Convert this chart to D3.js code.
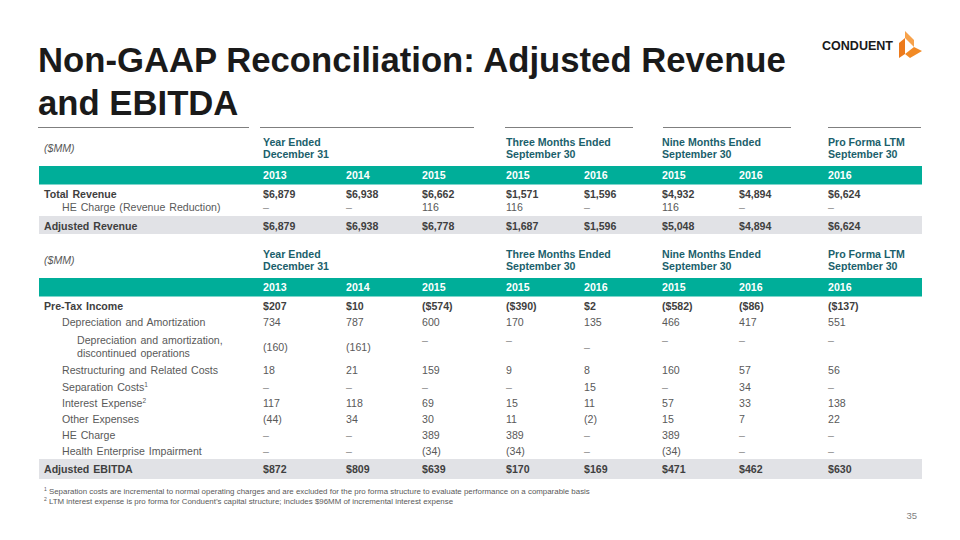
<!DOCTYPE html>
<html><head><meta charset="utf-8">
<script src="https://cdn.jsdelivr.net/npm/d3@7"></script>
<style>
html,body{margin:0;padding:0;background:#fff;}
svg{display:block;font-family:"Liberation Sans",Arial,sans-serif;}
</style></head>
<body><svg id="c" width="960" height="540"></svg>
<script>
// ---------- DATA ----------
const titleLines = ["Non-GAAP Reconciliation: Adjusted Revenue", "and EBITDA"];
const unitLabel = "($MM)";
const groups = [
  {label: ["Year Ended", "December 31"], cols: ["c0","c1","c2"]},
  {label: ["Three Months Ended", "September 30"], cols: ["c3","c4"]},
  {label: ["Nine Months Ended", "September 30"], cols: ["c5","c6"]},
  {label: ["Pro Forma LTM", "September 30"], cols: ["c7"]}
];
const columns = ["c0","c1","c2","c3","c4","c5","c6","c7"];
const years = ["2013","2014","2015","2015","2016","2015","2016","2016"];

const revenueLabels = ["Total Revenue", "HE Charge (Revenue Reduction)", "Adjusted Revenue"];
const totalRevenue = ["$6,879","$6,938","$6,662","$1,571","$1,596","$4,932","$4,894","$6,624"];
const heChargeRevenue = ["–","–","116","116","–","116","–","–"];
const adjustedRevenue = ["$6,879","$6,938","$6,778","$1,687","$1,596","$5,048","$4,894","$6,624"];

const ebitdaLabels = ["Pre-Tax Income","Depreciation and Amortization",
  "Depreciation and amortization,|discontinued operations","Restructuring and Related Costs",
  "Separation Costs","Interest Expense","Other Expenses","HE Charge",
  "Health Enterprise Impairment","Adjusted EBITDA"];
const ebitdaSup = ["","","","","1","2","","","",""];
const preTaxIncome = ["$207","$10","($574)","($390)","$2","($582)","($86)","($137)"];
const depAmort = ["734","787","600","170","135","466","417","551"];
const depAmortDisc = ["(160)","(161)","–","–","–","–","–","–"];
const restructuring = ["18","21","159","9","8","160","57","56"];
const separationCosts = ["–","–","–","–","15","–","34","–"];
const interestExpense = ["117","118","69","15","11","57","33","138"];
const otherExpenses = ["(44)","34","30","11","(2)","15","7","22"];
const heCharge = ["–","–","389","389","–","389","–","–"];
const heImpairment = ["–","–","(34)","(34)","–","(34)","–","–"];
const adjustedEbitda = ["$872","$809","$639","$170","$169","$471","$462","$630"];

const footnotes = [
  ["1"," Separation costs are incremental to normal operating charges and are excluded for the pro forma structure to evaluate performance on a comparable basis"],
  ["2"," LTM interest expense is pro forma for Conduent’s capital structure; includes $96MM of incremental interest expense"]
];
const pageNumber = "35";
const logoText = "CONDUENT";

// ---------- LAYOUT ----------
const svg = d3.select("#c");
const TEAL = "#00ae99", HEAD = "#1b5f6c", TXT = "#595959", DARK = "#3f3f3f", BAND = "#e1e2e6";
const fs = 10.6;
const x = d3.scaleOrdinal().domain(columns).range([263,346,422,506,584,662,739,828]);
const tableLeft = 38, tableRight = 922;
const indent = d3.scaleOrdinal().domain([0,1,2]).range([44,62,77]);

// title
svg.append("g").selectAll("text").data(titleLines).join("text")
  .attr("x", 38).attr("y", (d,i)=>72+i*43)
  .attr("font-size", 34.7).attr("font-weight", "bold").attr("fill", "#1a1a1a")
  .text(d=>d);

// logo
svg.append("text").attr("x", 822).attr("y", 50).attr("font-size", 12).attr("font-weight","bold")
  .attr("fill","#1a1a1a").attr("textLength",71).attr("lengthAdjust","spacingAndGlyphs").text(logoText);
const logo = svg.append("g");
logo.append("path").attr("d","M905,31 L914,40 L914,47 L905,38 Z").attr("fill","#f7a24b");
logo.append("path").attr("d","M899,43 L905,38 L905,54 L899,58 Z").attr("fill","#ec7a1c");
logo.append("path").attr("d","M905,54 L914,47 L922,51 L910,58 Z").attr("fill","#f28a25");

// top rules
const ruleSegs = [[38,249],[260,474],[505,633],[663,791],[828,921]];
svg.append("g").selectAll("line").data(ruleSegs).join("line")
  .attr("x1",d=>d[0]).attr("x2",d=>d[1]).attr("y1",127.5).attr("y2",127.5)
  .attr("stroke","#7f7f7f").attr("stroke-width",1.2);

function header(yTop){
  svg.append("text").attr("x",44).attr("y",yTop+18.5).attr("font-size",fs).attr("font-style","italic")
    .attr("fill",TXT).text(unitLabel);
  const g = svg.append("g").selectAll("text").data(groups).join("text")
    .attr("font-size",fs).attr("font-weight","bold").attr("fill",HEAD);
  g.selectAll("tspan").data(d=>d.label.map(l=>({l, c:d.cols[0]}))).join("tspan")
    .attr("x",d=>x(d.c)).attr("y",(d,i)=>yTop+12.5+i*12).text(d=>d.l);
  svg.append("rect").attr("x",tableLeft+1).attr("width",tableRight-tableLeft-1)
    .attr("y",yTop+33).attr("height",18.5).attr("fill",TEAL);
  svg.append("g").selectAll("text").data(columns).join("text")
    .attr("x",d=>x(d)).attr("y",yTop+46).attr("font-size",fs).attr("font-weight","bold")
    .attr("fill","#fff").text((d,i)=>years[i]);
}

function row(label, values, y, opts){
  opts = opts || {};
  if (opts.band) svg.append("rect").attr("x",tableLeft+1).attr("width",tableRight-tableLeft-1)
    .attr("y",y-10).attr("height",opts.bandH||19).attr("fill",BAND);
  const fw = opts.bold ? "bold" : "normal";
  const col = opts.bold ? DARK : TXT;
  const lines = label.split("|");
  const t = svg.append("text").attr("font-size",fs).attr("font-weight",fw).attr("fill",col)
    .attr("word-spacing", 1);
  lines.forEach((l,i)=>{
    t.append("tspan").attr("x",indent(opts.level||0)).attr("y",y+4+(opts.labelDy||0)+i*12.5).text(l);
  });
  if (opts.sup) t.append("tspan").attr("font-size",6.5).attr("dy",-4).text(opts.sup);
  svg.append("g").selectAll("text").data(columns).join("text")
    .attr("x",d=>x(d))
    .attr("y",(d,i)=> y+4 + (values[i]==="–" ? (opts.dashDy ? opts.dashDy(i) : 0) : (opts.valueDy||0)))
    .attr("font-size",fs).attr("font-weight",fw)
    .attr("fill",(d,i)=>values[i]==="–" ? "#8a8a8a" : col)
    .text((d,i)=>values[i]);
}

// table 1
header(133);
row(revenueLabels[0], totalRevenue, 194, {bold:true, level:0});
row(revenueLabels[1], heChargeRevenue, 207, {level:1});
row(revenueLabels[2], adjustedRevenue, 226, {bold:true, level:0, band:true, bandH:18});

// table 2
header(245);
const ebitdaValues = [preTaxIncome, depAmort, depAmortDisc, restructuring, separationCosts,
  interestExpense, otherExpenses, heCharge, heImpairment, adjustedEbitda];
const ebitdaY = [306,322,340,370,387,403,419,435,451,469];
ebitdaLabels.forEach((lab,i)=>{
  const o = {level: (i===0||i===9)?0:(i===2?2:1), bold:(i===0||i===9), sup:ebitdaSup[i]};
  if (i===9){ o.band = true; o.bandH = 20; }
  if (i===2){ o.valueDy = 7; o.dashDy = c => c===4 ? 7 : 0; }
  row(lab, ebitdaValues[i], ebitdaY[i], o);
});

// footnotes
const fn = svg.append("g").selectAll("text").data(footnotes).join("text")
  .attr("x",44).attr("y",(d,i)=>494+i*10).attr("font-size",7.9).attr("fill",TXT);
fn.append("tspan").attr("font-size",5).attr("dy",-3).text(d=>d[0]);
fn.append("tspan").attr("dy",3).text(d=>d[1]);

svg.append("text").attr("x",917).attr("y",519).attr("text-anchor","end").attr("font-size",9.5)
  .attr("fill","#7f7f7f").text(pageNumber);
</script></body></html>
